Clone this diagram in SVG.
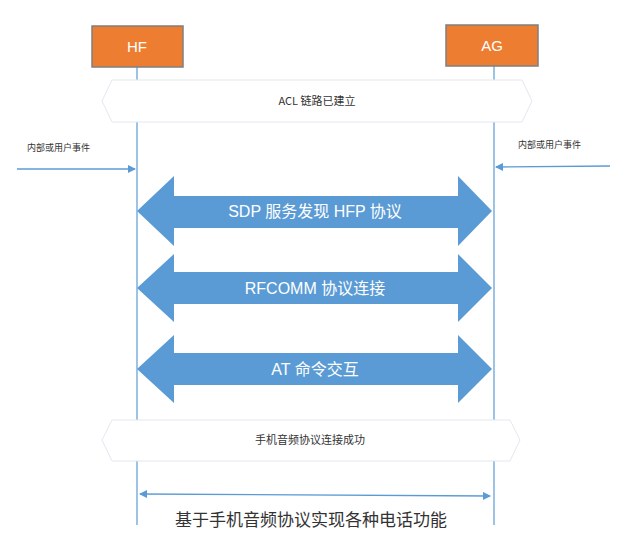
<svg xmlns="http://www.w3.org/2000/svg" width="631" height="555" viewBox="0 0 631 555">
<style>
.life{stroke:#5b9bd5;stroke-width:1.2}
.box{fill:#ed7d31;stroke:#7f7f7f;stroke-width:1.5}
.bt{font-family:"Liberation Sans","Noto Sans CJK SC",sans-serif;fill:#fff;font-size:15px;text-anchor:middle}
.hex{fill:#fff;stroke:#e3e8ef;stroke-width:1}
.ht{font-family:"Noto Sans CJK SC",sans-serif;fill:#333;font-size:11px;text-anchor:middle}
.big{fill:#5b9bd5}
.bigt{font-family:"Liberation Sans","Noto Sans CJK SC",sans-serif;fill:#fff;font-size:16px;text-anchor:middle}
.ev{font-family:"Noto Sans CJK SC",sans-serif;fill:#333;font-size:9px}
.ln{stroke:#5b9bd5;stroke-width:1.3;fill:none}
</style>
<defs>
<marker id="ah" markerWidth="8" markerHeight="8" refX="7" refY="4" orient="auto-start-reverse" markerUnits="userSpaceOnUse"><path d="M0,0 L8,4 L0,8 z" fill="#5b9bd5"/></marker>
</defs>
<rect width="631" height="555" fill="#fff"/>
<g id="lifelines">
<line class="life" x1="137" y1="67" x2="137" y2="525"/>
<line class="life" x1="494" y1="66" x2="494" y2="525"/>
</g>
<g id="HF"><rect class="box" x="92" y="26" width="91" height="41"/><text class="bt" x="137" y="52">HF</text></g>
<g id="AG"><rect class="box" x="446" y="25" width="92" height="41"/><text class="bt" x="492" y="51">AG</text></g>
<g id="acl"><polygon class="hex" points="112,80 522,80 532,101 522,122 112,122 102,101"/><text class="ht" x="317" y="105">ACL 链路已建立</text></g>
<g id="ev-left"><text class="ev" x="27" y="151">内部或用户事件</text></g>
<g id="ev-right"><text class="ev" x="518" y="148">内部或用户事件</text></g>
<g id="sdp"><polygon class="big" points="137,211 174,176 174,196 458,196 458,176 492,211 458,246 458,228 174,228 174,246"/><text class="bigt" x="315" y="217">SDP 服务发现 HFP 协议</text></g>
<g id="rfcomm"><polygon class="big" points="137,288 174,254 174,272 458,272 458,254 492,288 458,322 458,304 174,304 174,322"/><text class="bigt" x="315" y="294">RFCOMM 协议连接</text></g>
<g id="at"><polygon class="big" points="137,369 174,335 174,353 458,353 458,335 492,369 458,403 458,385 174,385 174,403"/><text class="bigt" x="315" y="375">AT 命令交互</text></g>
<g id="done"><polygon class="hex" points="112,420 510,420 520,440 510,461 112,461 102,440"/><text class="ht" x="310" y="444">手机音频协议连接成功</text></g>
<g id="connectors">
<line class="ln" x1="17" y1="169" x2="135" y2="169" marker-end="url(#ah)"/>
<line class="ln" x1="610" y1="166" x2="496" y2="167" marker-end="url(#ah)"/>
<line class="ln" x1="140" y1="494" x2="490" y2="496" marker-start="url(#ah)" marker-end="url(#ah)"/>
</g>
<g id="caption"><text x="175" y="526" font-family="Noto Sans CJK SC,sans-serif" font-size="17" fill="#333">基于手机音频协议实现各种电话功能</text></g>
</svg>
